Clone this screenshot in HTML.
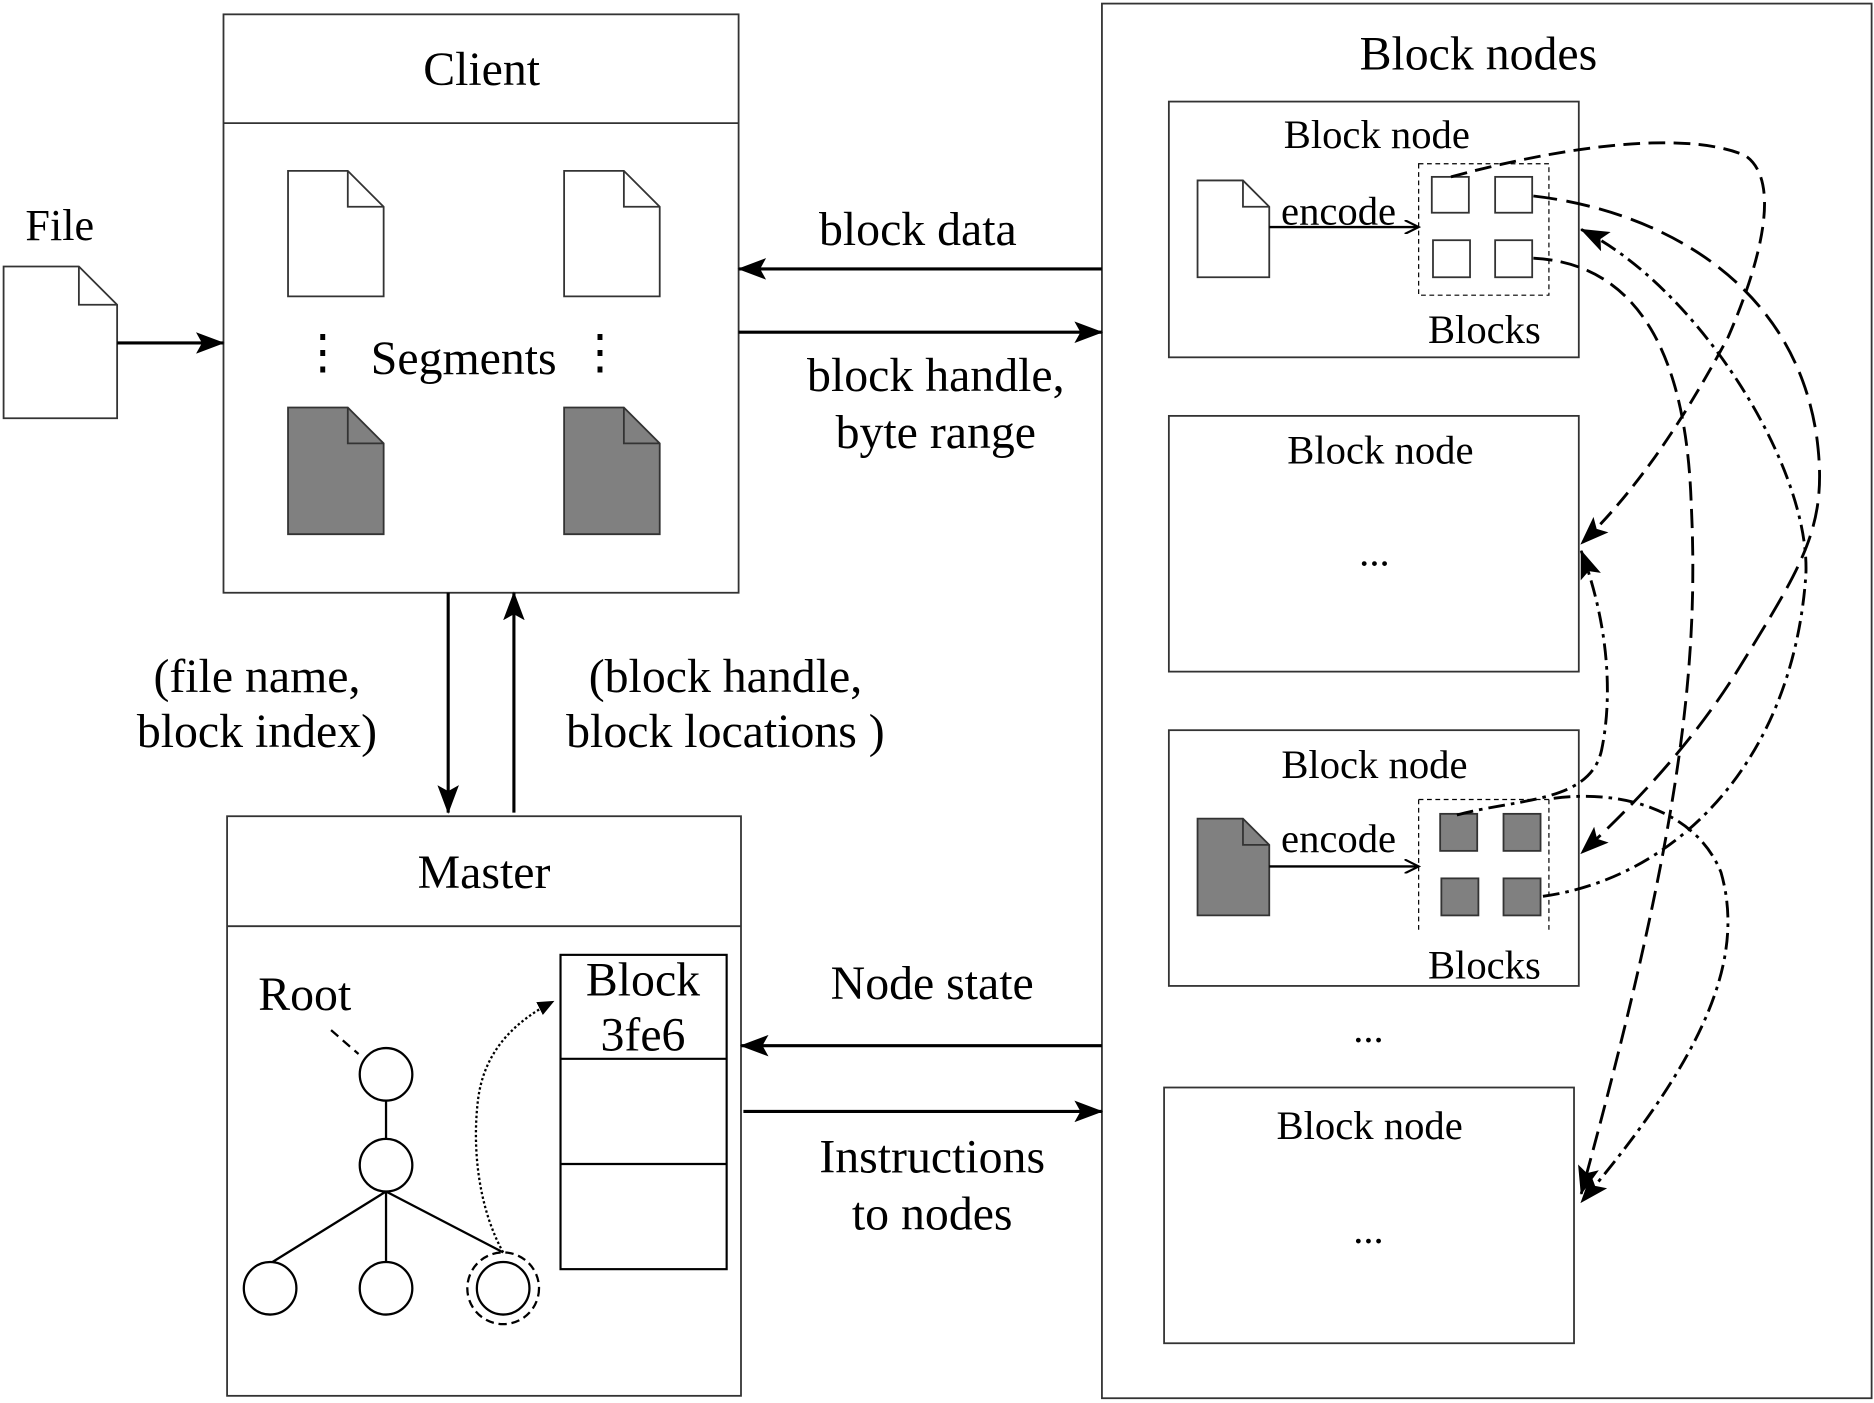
<!DOCTYPE html>
<html><head><style>html,body{margin:0;padding:0;background:#fff}svg{display:block}</style></head>
<body>
<svg width="1874" height="1403" viewBox="0 0 1568 1174" preserveAspectRatio="none" xmlns="http://www.w3.org/2000/svg" font-family="Liberation Serif, serif" fill="none" stroke="#000">
<defs>
<marker id="a" markerWidth="14" markerHeight="12" refX="13" refY="6" orient="auto" markerUnits="userSpaceOnUse" viewBox="0 0 14 12"><path d="M0,0 L14,6 L0,12 Z" fill="#000" stroke="none"/></marker>
<marker id="b" markerWidth="24" markerHeight="18" refX="23" refY="9" orient="auto" markerUnits="userSpaceOnUse" viewBox="0 0 24 18"><path d="M0,0 L24,9 L0,18 L5,9 Z" fill="#000" stroke="none"/></marker>
<marker id="o" markerWidth="14" markerHeight="12" refX="12" refY="6" orient="auto" markerUnits="userSpaceOnUse" viewBox="0 0 14 12"><path d="M0,0 L12,6 L0,12" fill="none" stroke="#000" stroke-width="1.8"/></marker>
</defs>
<g stroke-width="1.5" stroke="#333">
<rect x="187" y="12" width="431" height="484"/>
<line x1="187" y1="103" x2="618" y2="103"/>
<path d="M3,223 H66 L98,255 V350 H3 Z"/><path d="M66,223 V255 H98"/>
<path d="M241,143 H291 L321,173 V248 H241 Z"/><path d="M291,143 V173 H321"/>
<path d="M472,143 H522 L552,173 V248 H472 Z"/><path d="M522,143 V173 H552"/>
<path d="M241,341 H291 L321,371 V447 H241 Z" fill="#808080"/><path d="M291,341 V371 H321"/>
<path d="M472,341 H522 L552,371 V447 H472 Z" fill="#808080"/><path d="M522,341 V371 H552"/>
<rect x="190" y="683" width="430" height="485"/>
<line x1="190" y1="775" x2="620" y2="775"/>
<rect x="469" y="799" width="139" height="263" stroke="#000" stroke-width="1.8"/>
<line x1="469" y1="886" x2="608" y2="886" stroke="#000" stroke-width="1.8"/>
<line x1="469" y1="974" x2="608" y2="974" stroke="#000" stroke-width="1.8"/>
<rect x="922" y="3" width="644" height="1167"/>
<rect x="978" y="85" width="343" height="214"/>
<rect x="978" y="348" width="343" height="214"/>
<rect x="978" y="611" width="343" height="214"/>
<rect x="974" y="910" width="343" height="214"/>
<path d="M1002,151 H1040 L1062,173 V232 H1002 Z"/><path d="M1040,151 V173 H1062"/>
<path d="M1002,685 H1040 L1062,707 V766 H1002 Z" fill="#808080"/><path d="M1040,685 V707 H1062"/>
<rect x="1198" y="148" width="31" height="30"/><rect x="1251" y="148" width="31" height="30"/>
<rect x="1199" y="201" width="31" height="31"/><rect x="1251" y="201" width="31" height="31"/>
<rect x="1205" y="681" width="31" height="31" fill="#808080"/><rect x="1258" y="681" width="31" height="31" fill="#808080"/>
<rect x="1206" y="735" width="31" height="31" fill="#808080"/><rect x="1258" y="735" width="31" height="31" fill="#808080"/>
</g>
<rect x="1187" y="137" width="109" height="110" stroke-width="1" stroke-dasharray="4,3"/>
<path d="M1187,669 V779 M1296,669 V779 M1187,669 H1296" stroke-width="1" stroke-dasharray="4,3"/>
<g stroke-width="2.6">
<line x1="98" y1="287" x2="187" y2="287" marker-end="url(#b)"/>
<line x1="922" y1="225" x2="618" y2="225" marker-end="url(#b)"/>
<line x1="618" y1="278" x2="922" y2="278" marker-end="url(#b)"/>
<line x1="375" y1="496" x2="375" y2="680" marker-end="url(#b)"/>
<line x1="430" y1="680" x2="430" y2="496" marker-end="url(#b)"/>
<line x1="922" y1="875" x2="620" y2="875" marker-end="url(#b)"/>
<line x1="622" y1="930" x2="922" y2="930" marker-end="url(#b)"/>
</g>
<line x1="1062" y1="190" x2="1187" y2="190" stroke-width="2" marker-end="url(#o)"/>
<line x1="1062" y1="725" x2="1187" y2="725" stroke-width="2" marker-end="url(#o)"/>
<g stroke-width="1.9">
<circle cx="323" cy="899" r="22"/><circle cx="323" cy="975" r="22"/>
<circle cx="226" cy="1078" r="22"/><circle cx="323" cy="1078" r="22"/><circle cx="421" cy="1078" r="22"/>
<circle cx="421" cy="1078" r="30" stroke-dasharray="7,4"/>
<line x1="323" y1="921" x2="323" y2="953"/>
<path d="M323,997 L228,1056 M323,997 V1056 M323,997 L421,1048"/>
<line x1="277" y1="862" x2="300" y2="882" stroke-dasharray="8,5"/>
<path d="M421,1048 C400,1010 395,960 400,920 C405,880 430,855 463,838" stroke-dasharray="2,2" marker-end="url(#a)"/>
</g>
<g stroke-width="2.4">
<path d="M1214,148 C1280,130 1400,105 1460,130 C1490,150 1475,215 1446,282 C1420,330 1380,400 1323,455" stroke-dasharray="14,7" marker-end="url(#b)"/>
<path d="M1283,164 C1380,175 1500,230 1520,365 C1530,440 1510,470 1452,564 C1410,630 1360,680 1323,714" stroke-dasharray="20,8" marker-end="url(#b)"/>
<path d="M1283,216 C1360,220 1410,280 1415,420 C1422,560 1405,700 1323,999" stroke-dasharray="16,7" marker-end="url(#b)"/>
<path d="M1291,750 C1400,735 1500,640 1511,481 C1515,390 1420,240 1323,192" stroke-dasharray="14,5,3,5" marker-end="url(#b)"/>
<path d="M1219,682 C1270,668 1330,672 1340,628 C1350,580 1345,520 1323,461" stroke-dasharray="14,5,3,5" marker-end="url(#b)"/>
<path d="M1300,668 C1360,660 1420,680 1440,730 C1460,800 1430,880 1323,1006" stroke-dasharray="14,5,3,5" marker-end="url(#b)"/>
</g>
<g fill="#000" stroke="none" text-anchor="middle" font-size="40">
<text x="403" y="71">Client</text>
<text x="50" y="201" font-size="37">File</text>
<text x="388" y="313">Segments</text>
<text x="270" y="308">⋮</text><text x="502" y="308">⋮</text>
<text x="768" y="205">block data</text>
<text x="783" y="327">block handle,</text>
<text x="783" y="375">byte range</text>
<text x="215" y="579">(file name,</text>
<text x="215" y="625">block index)</text>
<text x="607" y="579">(block handle,</text>
<text x="607" y="625">block locations )</text>
<text x="405" y="743">Master</text>
<text x="255" y="845">Root</text>
<text x="538" y="833">Block</text>
<text x="538" y="879">3fe6</text>
<text x="780" y="836">Node state</text>
<text x="780" y="981">Instructions</text>
<text x="780" y="1029">to nodes</text>
<text x="1237" y="58">Block nodes</text>
<g font-size="34">
<text x="1152" y="124">Block node</text>
<text x="1120" y="188">encode</text>
<text x="1242" y="287">Blocks</text>
<text x="1155" y="388">Block node</text>
<text x="1150" y="473">...</text>
<text x="1150" y="651">Block node</text>
<text x="1120" y="713">encode</text>
<text x="1242" y="819">Blocks</text>
<text x="1145" y="872">...</text>
<text x="1146" y="953">Block node</text>
<text x="1145" y="1040">...</text>
</g>
</g>
</svg>
</body></html>
